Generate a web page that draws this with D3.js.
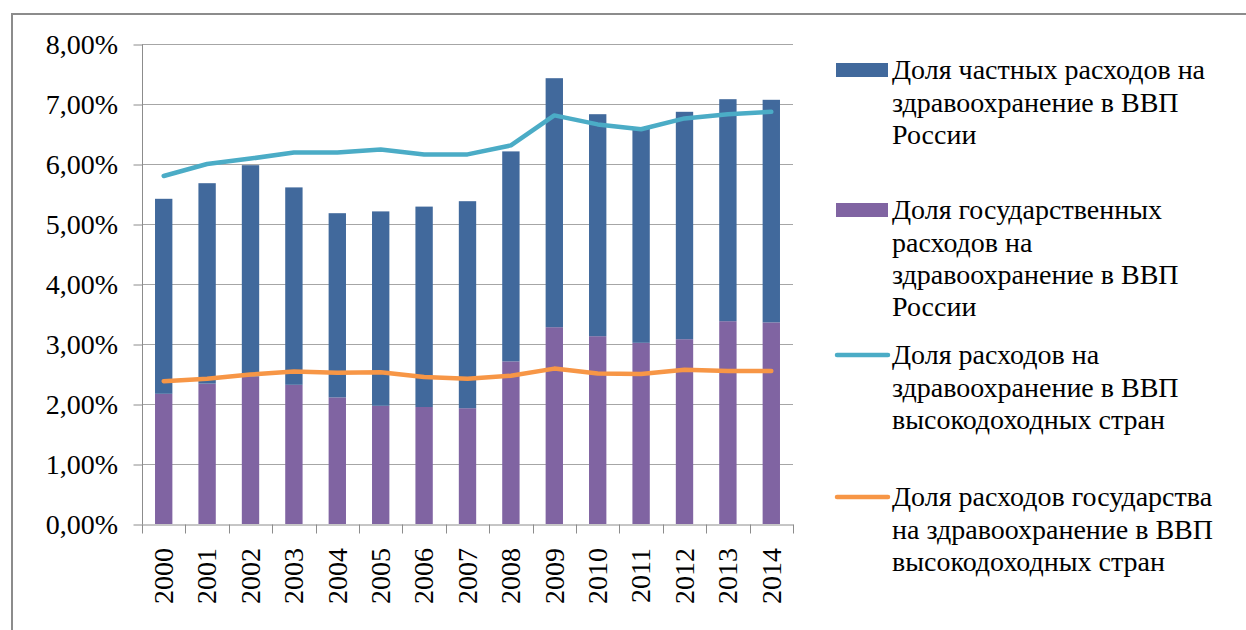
<!DOCTYPE html>
<html>
<head>
<meta charset="utf-8">
<script src="https://cdn.jsdelivr.net/npm/d3@7"></script>
<style>
  body { margin: 0; background: #fff; }
</style>
</head>
<body>
<div id="chart"></div>
<script>
//// data
var years = ["2000","2001","2002","2003","2004","2005","2006","2007","2008","2009","2010","2011","2012","2013","2014"];
// доля расходов в ВВП, %
var stateRu   = [2.17, 2.34, 2.46, 2.32, 2.11, 1.97, 1.95, 1.93, 2.71, 3.28, 3.13, 3.02, 3.08, 3.38, 3.36];
var totalRu   = [5.42, 5.68, 5.98, 5.61, 5.18, 5.21, 5.29, 5.38, 6.21, 7.43, 6.83, 6.60, 6.87, 7.08, 7.07];
var privateRu = totalRu.map((t, i) => +(t - stateRu[i]).toFixed(2));
var totalHigh = [5.80, 6.00, 6.09, 6.19, 6.19, 6.24, 6.16, 6.16, 6.31, 6.81, 6.66, 6.58, 6.76, 6.83, 6.87];
var stateHigh = [2.38, 2.42, 2.49, 2.54, 2.52, 2.53, 2.45, 2.42, 2.47, 2.59, 2.51, 2.50, 2.57, 2.55, 2.55];
var yTicks = [0, 1, 2, 3, 4, 5, 6, 7, 8];

var legendItems = [
  {type: "rect", color: "#41699c", lines: ["Доля частных расходов на", "здравоохранение в ВВП", "России"]},
  {type: "rect", color: "#8064a2", lines: ["Доля государственных", "расходов на", "здравоохранение в ВВП", "России"]},
  {type: "line", color: "#4bacc6", lines: ["Доля расходов на", "здравоохранение в ВВП", "высокодоходных стран"]},
  {type: "line", color: "#f79646", lines: ["Доля расходов государства", "на здравоохранение в ВВП", "высокодоходных стран"]}
];
var legendY = [70, 210, 355, 497];

var FONT = "'Liberation Serif'";

var W = 1246, H = 630;
var margin = {top: 44, left: 142, right: 453, bottom: 106};

var svg = d3.select("#chart").append("svg")
    .attr("width", W)
    .attr("height", H);

// frame
svg.append("rect")
    .attr("x", 12).attr("y", 14)
    .attr("width", W + 20).attr("height", H + 20)
    .attr("fill", "none")
    .attr("stroke", "#8c8c8c")
    .attr("stroke-width", 2);

var x = d3.scaleBand()
    .domain(years)
    .range([margin.left, W - margin.right]);

var y = d3.scaleLinear()
    .domain([0, 8])
    .range([H - margin.bottom, margin.top]);

var ru = d3.formatLocale({decimal: ",", thousands: " ", grouping: [3], currency: ["", ""]});
var pct = ru.format(".2%");

// grid
svg.append("g")
    .selectAll("line")
    .data(yTicks.slice(1))
    .enter().append("line")
    .attr("x1", margin.left).attr("x2", W - margin.right)
    .attr("y1", d => Math.round(y(d)) + 0.5).attr("y2", d => Math.round(y(d)) + 0.5)
    .attr("stroke", "#a6a6a6");

// y axis (lines from d3.axisLeft, labels placed with the same scale)
var yAxis = svg.append("g")
    .attr("transform", "translate(" + (margin.left + 0.5) + ",0.5)")
    .call(d3.axisLeft(y).tickValues(yTicks).tickSize(9).tickFormat(""));
yAxis.select(".domain").attr("stroke", "#8c8c8c").attr("d", "M0," + y(0) + "V" + y(8));
yAxis.selectAll(".tick line").attr("stroke", "#8c8c8c");

svg.selectAll(".ylab")
    .data(yTicks)
    .enter().append("text")
    .attr("class", "ylab")
    .attr("x", margin.left - 24)
    .attr("y", d => y(d))
    .attr("dy", "0.35em")
    .attr("text-anchor", "end")
    .style("font-family", FONT)
    .style("font-size", "28px")
    .text(d => pct(d / 100));

// x axis
var xAxis = svg.append("g")
    .attr("transform", "translate(0," + (y(0) + 0.5) + ")")
    .call(d3.axisBottom(x).tickSize(0).tickSizeOuter(0).tickFormat(""));
xAxis.select(".domain").attr("stroke", "#8c8c8c");
// category boundary ticks
xAxis.append("g")
    .selectAll("line")
    .data(years.concat(["end"]))
    .enter().append("line")
    .attr("x1", (d, i) => Math.round(margin.left + i * x.step()) + 0.5)
    .attr("x2", (d, i) => Math.round(margin.left + i * x.step()) + 0.5)
    .attr("y1", 0).attr("y2", 9)
    .attr("stroke", "#8c8c8c");

svg.selectAll(".xlab")
    .data(years)
    .enter().append("text")
    .attr("class", "xlab")
    .attr("x", d => x(d) + x.bandwidth() / 2)
    .attr("y", y(0) + 24)
    .attr("transform", d => "rotate(-90," + (x(d) + x.bandwidth() / 2) + "," + (y(0) + 24) + ")")
    .attr("dy", "0.33em")
    .attr("text-anchor", "end")
    .style("font-family", FONT)
    .style("font-size", "28px")
    .text(d => d);

// bars
var barW = x.bandwidth() * 0.4;
var bars = svg.append("g");
bars.selectAll(".state")
    .data(years)
    .enter().append("rect")
    .attr("class", "state")
    .attr("x", d => x(d) + (x.bandwidth() - barW) / 2)
    .attr("width", barW)
    .attr("y", (d, i) => y(stateRu[i]))
    .attr("height", (d, i) => y(0) - y(stateRu[i]))
    .attr("fill", "#8064a2");
bars.selectAll(".private")
    .data(years)
    .enter().append("rect")
    .attr("class", "private")
    .attr("x", d => x(d) + (x.bandwidth() - barW) / 2)
    .attr("width", barW)
    .attr("y", (d, i) => y(stateRu[i] + privateRu[i]))
    .attr("height", (d, i) => y(stateRu[i]) - y(stateRu[i] + privateRu[i]))
    .attr("fill", "#41699c");

// lines
var line = d3.line()
    .x((d, i) => x(years[i]) + x.bandwidth() / 2)
    .y(d => y(d));

[[totalHigh, "#4bacc6"], [stateHigh, "#f79646"]].forEach(function(s) {
  svg.append("path")
      .datum(s[0])
      .attr("d", line)
      .attr("fill", "none")
      .attr("stroke", s[1])
      .attr("stroke-width", 4.5)
      .attr("stroke-linejoin", "round")
      .attr("stroke-linecap", "round");
});

//// legend
var lx = 836;
legendItems.forEach(function(item, k) {
  var ly = legendY[k];
  if (item.type === "rect") {
    svg.append("rect").attr("x", lx).attr("y", ly - 7).attr("width", 52).attr("height", 14).attr("fill", item.color);
  } else {
    svg.append("line").attr("x1", lx + 1).attr("x2", lx + 52).attr("y1", ly).attr("y2", ly)
      .attr("stroke", item.color).attr("stroke-width", 4.5).attr("stroke-linecap", "round");
  }
  item.lines.forEach(function(t, i) {
    svg.append("text")
        .attr("x", lx + 56)
        .attr("y", ly + i * 32.3)
        .attr("dy", "0.33em")
        .style("font-family", FONT)
        .style("font-size", "28px")
        .text(t);
  });
});
</script>
</body>
</html>
